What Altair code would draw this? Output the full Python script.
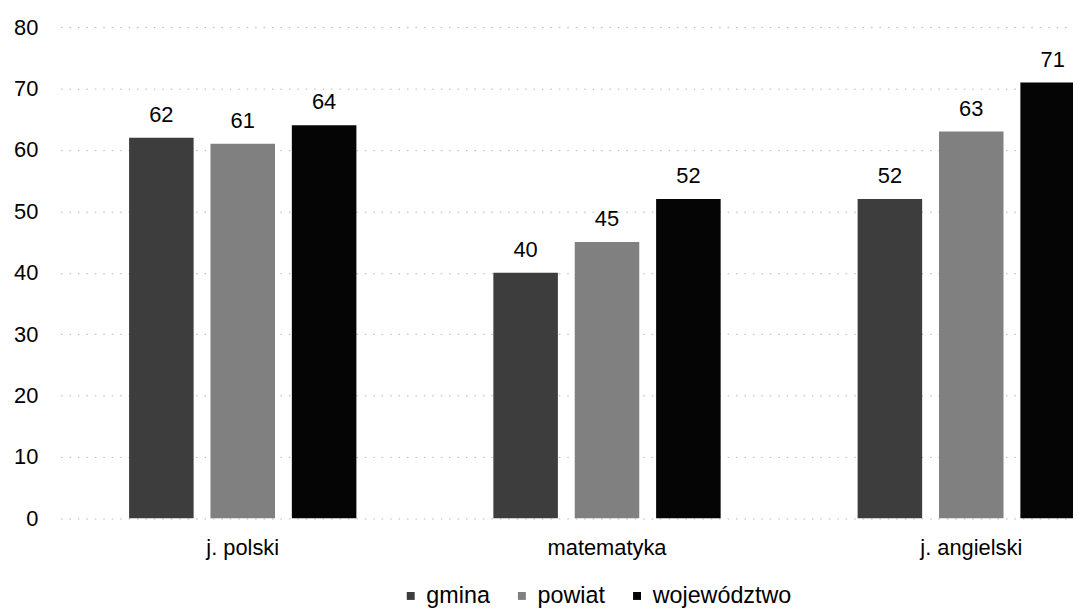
import altair as alt
import pandas as pd

subjects = ["j. polski", "matematyka", "j. angielski"]
series = ["gmina", "powiat", "województwo"]
gmina = [62, 40, 52]
powiat = [61, 45, 63]
wojewodztwo = [64, 52, 71]
colors = ["#3d3d3d", "#808080", "#050505"]
y_ticks = [0, 10, 20, 30, 40, 50, 60, 70, 80]

rows = []
for i, s in enumerate(subjects):
    for name, vals in zip(series, [gmina, powiat, wojewodztwo]):
        rows.append({"przedmiot": s, "jednostka": name, "wynik": vals[i]})
df = pd.DataFrame(rows)

FONT = "Liberation Sans"
FS = 22

x = alt.X(
    "przedmiot:N",
    sort=subjects,
    scale=alt.Scale(range=[0, 1101], paddingInner=0.376, paddingOuter=0.188),
    axis=alt.Axis(title=None, labelAngle=0, ticks=False, domain=False,
                  labelFontSize=FS, labelFont=FONT, labelPadding=19,
                  labelColor="#000000"),
)
xo = alt.XOffset("jednostka:N", sort=series,
                 scale=alt.Scale(paddingInner=0.207, paddingOuter=0))
y = alt.Y(
    "wynik:Q",
    scale=alt.Scale(domain=[0, 80], nice=False),
    axis=alt.Axis(values=y_ticks, title=None, ticks=False, domain=False,
                  labelAlign="right", labelPadding=23, labelFontSize=FS,
                  labelFont=FONT, labelColor="#000000",
                  grid=True, gridDash=[1.5, 7], gridColor="#b4b4b4",
                  gridWidth=1),
)
color = alt.Color(
    "jednostka:N",
    sort=series,
    scale=alt.Scale(domain=series, range=colors),
    legend=alt.Legend(title=None, orient="none", direction="horizontal",
                      legendX=341, legendY=561, symbolType="square",
                      symbolSize=64, symbolStrokeWidth=0,
                      labelFontSize=23.5, labelFont=FONT, labelColor="#000000",
                      labelOffset=4, columnPadding=20, padding=0),
)

bars = alt.Chart(df).mark_bar(clip=True).encode(x=x, xOffset=xo, y=y, color=color)
text = alt.Chart(df).mark_text(
    baseline="alphabetic", dy=-16, fontSize=FS, font=FONT, color="#000000", clip=True
).encode(x=x, xOffset=xo, y=y, text="wynik:Q")

chart = (bars + text).properties(
    width=1020,
    height=495,
    padding={"left": 53, "top": 17, "right": 0, "bottom": 88},
    autosize=alt.AutoSizeParams(type="none"),
).configure_view(stroke=None)

chart.save("out.html", embed_options={"renderer": "svg", "actions": False})
